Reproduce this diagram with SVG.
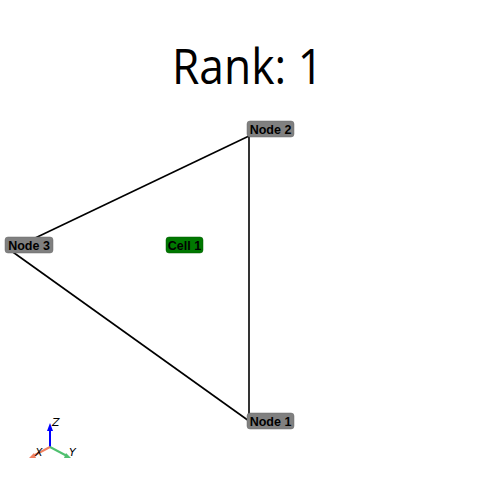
<svg xmlns="http://www.w3.org/2000/svg" width="500" height="500" viewBox="0 0 500 500">
<style>
.edge{stroke:#000;stroke-width:1.6;fill:none}
.lbl{fill:#808080;stroke:#6a6a6a;stroke-width:0.5}
.cell{fill:#007800;stroke:#005a00;stroke-width:0.5}
.t{font-family:"Liberation Sans",sans-serif;font-size:12.5px;font-weight:bold;fill:#000}
.ax{font-family:"DejaVu Sans",sans-serif;font-size:11px;font-style:italic;fill:#000}
</style>
<rect width="500" height="500" fill="#fff"/>
<text x="172" y="84" textLength="151" lengthAdjust="spacingAndGlyphs" font-family="'Open Sans',sans-serif" font-weight="400" font-size="50" fill="#000">Rank: 1</text>
<g id="connectors">
<line class="edge" x1="249" y1="136" x2="249" y2="421"/>
<line class="edge" x1="249" y1="136" x2="10" y2="250"/>
<line class="edge" x1="10" y1="250" x2="249" y2="421"/>
</g>
<g id="node2"><rect class="lbl" x="247" y="121" width="47" height="16" rx="3"/><text class="t" x="270.5" y="133.5" text-anchor="middle">Node 2</text></g>
<g id="node3"><rect class="lbl" x="5" y="237" width="48" height="16" rx="3"/><text class="t" x="29" y="249.5" text-anchor="middle">Node 3</text></g>
<g id="cell1"><rect class="cell" x="166" y="237" width="37" height="16" rx="3"/><text class="t" x="184.5" y="249.5" text-anchor="middle">Cell 1</text></g>
<g id="node1"><rect class="lbl" x="247" y="413" width="47" height="16" rx="3"/><text class="t" x="270.5" y="425.5" text-anchor="middle">Node 1</text></g>
<g id="axes">
<line x1="50" y1="447" x2="50" y2="430" stroke="#0000ff" stroke-width="2"/>
<polygon points="50,423 47,431 53,431" fill="#0000ff"/>
<line x1="50" y1="447" x2="33" y2="456" stroke="#f08060" stroke-width="2"/>
<polygon points="29,458 34,453 36,458" fill="#f08060"/>
<line x1="50" y1="447" x2="67" y2="456" stroke="#50c070" stroke-width="2"/>
<polygon points="71,458 66,453 64,458" fill="#50c070"/>
<text class="ax" x="52" y="426">Z</text>
<text class="ax" x="35" y="456">X</text>
<text class="ax" x="69" y="456">Y</text>
</g>
</svg>
